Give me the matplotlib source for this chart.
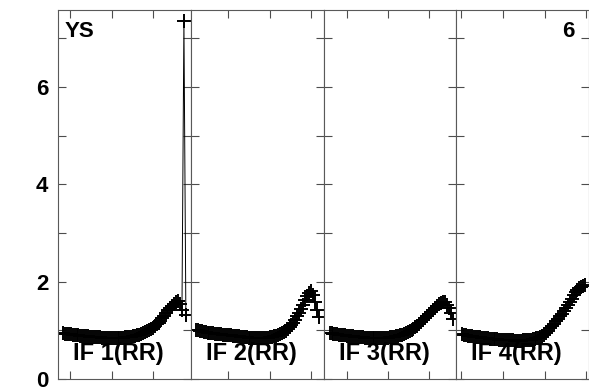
import numpy as np
import matplotlib
matplotlib.use("Agg")
import matplotlib.pyplot as plt

plt.rcParams['font.family'] = ['Liberation Sans', 'DejaVu Sans']
plt.rcParams['font.weight'] = 'bold'

# amplitude per channel, 64 channels per IF (RR)
if1 = [0.94, 0.93, 0.93, 0.92, 0.92, 0.91, 0.91, 0.90, 0.90, 0.89,
       0.89, 0.88, 0.88, 0.88, 0.87, 0.87, 0.87, 0.86, 0.86, 0.86,
       0.85, 0.85, 0.85, 0.85, 0.85, 0.84, 0.84, 0.84, 0.84, 0.85,
       0.85, 0.85, 0.86, 0.86, 0.87, 0.87, 0.88, 0.89, 0.90, 0.91,
       0.92, 0.94, 0.96, 0.98, 1.00, 1.02, 1.05, 1.08, 1.12, 1.16,
       1.20, 1.25, 1.30, 1.36, 1.41, 1.46, 1.50, 1.54, 1.58, 1.61,
       1.55, 1.42, 7.35, 1.31]
if2 = [1.01, 1.00, 0.99, 0.98, 0.97, 0.96, 0.95, 0.95, 0.94, 0.94,
       0.93, 0.93, 0.92, 0.92, 0.91, 0.91, 0.90, 0.90, 0.90, 0.89,
       0.89, 0.88, 0.88, 0.87, 0.87, 0.86, 0.86, 0.85, 0.85, 0.85,
       0.84, 0.84, 0.84, 0.84, 0.84, 0.84, 0.85, 0.85, 0.86, 0.87,
       0.88, 0.89, 0.90, 0.92, 0.94, 0.96, 0.99, 1.02, 1.06, 1.11,
       1.16, 1.22, 1.29, 1.36, 1.44, 1.53, 1.62, 1.70, 1.76, 1.80,
       1.72, 1.58, 1.42, 1.28]
if3 = [0.95, 0.94, 0.93, 0.93, 0.92, 0.91, 0.91, 0.90, 0.90, 0.89,
       0.89, 0.88, 0.88, 0.87, 0.87, 0.86, 0.86, 0.86, 0.85, 0.85,
       0.85, 0.85, 0.84, 0.84, 0.84, 0.84, 0.84, 0.84, 0.84, 0.85,
       0.85, 0.86, 0.86, 0.87, 0.88, 0.89, 0.90, 0.91, 0.93, 0.94,
       0.96, 0.98, 1.00, 1.03, 1.06, 1.09, 1.13, 1.17, 1.21, 1.25,
       1.29, 1.33, 1.38, 1.42, 1.46, 1.50, 1.54, 1.57, 1.59, 1.58,
       1.53, 1.45, 1.35, 1.24]
if4 = [0.92, 0.91, 0.90, 0.89, 0.89, 0.88, 0.87, 0.87, 0.86, 0.86,
       0.85, 0.85, 0.84, 0.84, 0.83, 0.83, 0.82, 0.82, 0.82, 0.81,
       0.81, 0.81, 0.80, 0.80, 0.80, 0.80, 0.80, 0.79, 0.79, 0.79,
       0.79, 0.80, 0.80, 0.80, 0.81, 0.81, 0.82, 0.83, 0.84, 0.85,
       0.86, 0.88, 0.91, 0.95, 0.99, 1.04, 1.09, 1.14, 1.19, 1.24,
       1.29, 1.34, 1.39, 1.45, 1.51, 1.58, 1.65, 1.72, 1.78, 1.83,
       1.87, 1.90, 1.92, 1.93]
spectra = [if1, if2, if3, if4]
if_labels = ['IF 1(RR)', 'IF 2(RR)', 'IF 3(RR)', 'IF 4(RR)']
channels = np.arange(1, 65)

# channel range shown in each panel and where the x ticks fall
x_left = [-1.5, -1.6, -2.1, -2.1]
x_span = 68.0
x_ticks = [[4.65, 26.2, 47.2],
           [17.4, 38.9, 59.9],
           [9.7, 30.7, 51.7],
           [0.46, 22.0, 43.5, 64.6]]

fig, axes = plt.subplots(1, 4, sharey=True, figsize=(5.89, 3.88), dpi=100)
fig.subplots_adjust(left=58/589, right=1.0, bottom=9/388, top=378/388, wspace=0)

for i, ax in enumerate(axes):
    ax.plot(channels, spectra[i], color='black', lw=0.7, marker='+',
            ms=10, mew=1.4)
    ax.set_xlim(x_left[i], x_left[i] + x_span)
    ax.set_ylim(0, 7.58)
    ax.set_xticks(x_ticks[i])
    ax.set_xticklabels([])
    ax.set_yticks([0, 2, 4, 6])
    ax.set_yticks([1, 3, 5, 7], minor=True)
    for which in ['major', 'minor']:
        ax.tick_params(axis='both', which=which, direction='in', length=5.5,
                       width=0.8, color='0.3', top=True, right=True,
                       labelsize=16, pad=7)
    for s in ax.spines.values():
        s.set_color('0.35')
        s.set_linewidth(0.8)
    ax.text(0.113, 0.0515, if_labels[i], transform=ax.transAxes,
            fontsize=17, fontweight='bold', ha='left', va='baseline')

axes[0].text(0.053, 0.927, 'YS', transform=axes[0].transAxes,
             fontsize=16, fontweight='bold', ha='left', va='baseline')
axes[3].text(0.894, 0.927, '6', transform=axes[3].transAxes,
             fontsize=16, fontweight='bold', ha='right', va='baseline')

fig.savefig('out.png', dpi=100)
